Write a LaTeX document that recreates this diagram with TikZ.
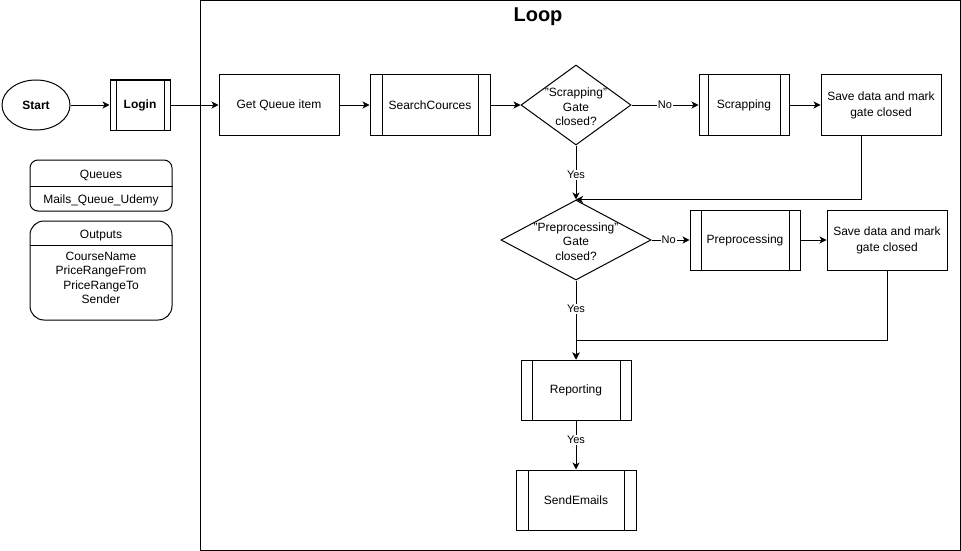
\documentclass[tikz,border=0pt]{standalone}
\usepackage{fontspec}
\setmainfont{Liberation Sans}
\usetikzlibrary{arrows.meta,shapes.geometric,calc}
\begin{document}
\begin{tikzpicture}[x=1pt,y=-1pt,
  every node/.style={font=\fontsize{12}{14.4}\selectfont},
  line/.style={line width=1pt},
  arr/.style={line width=1pt, -{Stealth[length=7pt,width=7pt,inset=2pt]}},
  box/.style={draw, line width=1pt, rectangle, minimum width=#1, minimum height=60pt, inner sep=0pt, align=center},
  box/.default=120pt,
  procbox/.style={box=#1, path picture={
    \draw[line width=1pt]
      ($(path picture bounding box.north west)!0.1!(path picture bounding box.north east)$) --
      ($(path picture bounding box.south west)!0.1!(path picture bounding box.south east)$);
    \draw[line width=1pt]
      ($(path picture bounding box.north east)!0.1!(path picture bounding box.north west)$) --
      ($(path picture bounding box.south east)!0.1!(path picture bounding box.south west)$);}},
  gate/.style={draw, line width=1pt, diamond, minimum width=#1, minimum height=80pt, inner sep=0pt},
  gatetext/.style={align=center, inner sep=0pt},
  elab/.style={fill=white, inner sep=1pt, font=\fontsize{11}{13}\selectfont},
  panel/.style={draw, line width=1pt, minimum width=142pt, inner sep=0pt}
]
\useasboundingbox (0,0) rectangle (961,551);

% loop container
\draw[line] (200.5,0.5) rectangle (960,550);
\node[font=\fontsize{20}{24}\bfseries] (looptitle) at (538,17) {Loop};

% entry
\node[draw, line width=1pt, ellipse, minimum width=68pt, minimum height=50pt, inner sep=0pt, font=\fontsize{12}{14.4}\bfseries] (start) at (36,105) {Start};
\node[procbox=60pt, minimum height=50pt, font=\fontsize{12}{14.4}\bfseries] (login) at (140,105) {Login};

% side panels
\node[panel, rounded corners=8pt, minimum height=51pt] (queues) at (101,185.5) {};
\draw[line] (queues.west |- 0,186) -- (queues.east |- 0,186);
\node (queuestitle) at (101,175) {Queues};
\node (queuesitem) at (101,200) {Mails\_Queue\_Udemy};

\node[panel, rounded corners=14pt, minimum height=99pt] (outputs) at (101,270.5) {};
\draw[line] (outputs.west |- 0,245) -- (outputs.east |- 0,245);
\node (outputstitle) at (101,235.5) {Outputs};
\node[align=center, inner sep=0pt] (outputsitems) at (101,278) {CourseName\\PriceRangeFrom\\PriceRangeTo\\Sender};

% main flow
\node[box] (getq) at (279,105) {Get Queue item};
\node[procbox=120pt] (search) at (430,105) {SearchCources};
\node[gate=110pt] (d1) at (576,105) {};
\node[gatetext] (d1text) at (576,107) {"Scrapping"\\Gate\\closed?};
\node[procbox=90pt] (scrap) at (744,105) {Scrapping};
\node[box, font=\fontsize{12}{16}\selectfont] (save1) at (881,105) {Save data and mark\\gate closed};

\node[gate=150pt] (d2) at (576,240) {};
\node[gatetext] (d2text) at (576,241.5) {"Preprocessing"\\Gate\\closed?};
\node[procbox=110pt] (prep) at (745,240) {Preprocessing};
\node[box, font=\fontsize{12}{16}\selectfont] (save2) at (887,240) {Save data and mark\\gate closed};

\node[procbox=110pt] (report) at (576,390) {Reporting};
\node[procbox=120pt] (send) at (576,500) {SendEmails};

% connectors
\draw[arr] (start) -- (login);
\draw[arr] (login) -- (getq);
\draw[arr] (getq) -- (search);
\draw[arr] (search) -- (d1);
\draw[arr] (d1) -- node[elab] {No} (scrap);
\draw[arr] (scrap) -- (save1);
\draw[arr] (d1) -- node[elab, pos=0.55] {Yes} (d2);
\draw[arr] ([xshift=-20pt]save1.south) |- (d2.north);

\draw[arr] (d2) -- node[elab, pos=0.45] {No} (prep);
\draw[arr] (prep) -- (save2);
\draw[arr] (d2) -- node[elab, pos=0.36] {Yes} (report);
\draw[arr] (save2.south) -- ++(0,70) -| (report.north);

\draw[arr] (report) -- node[elab, pos=0.4] {Yes} (send);
\end{tikzpicture}
\end{document}
